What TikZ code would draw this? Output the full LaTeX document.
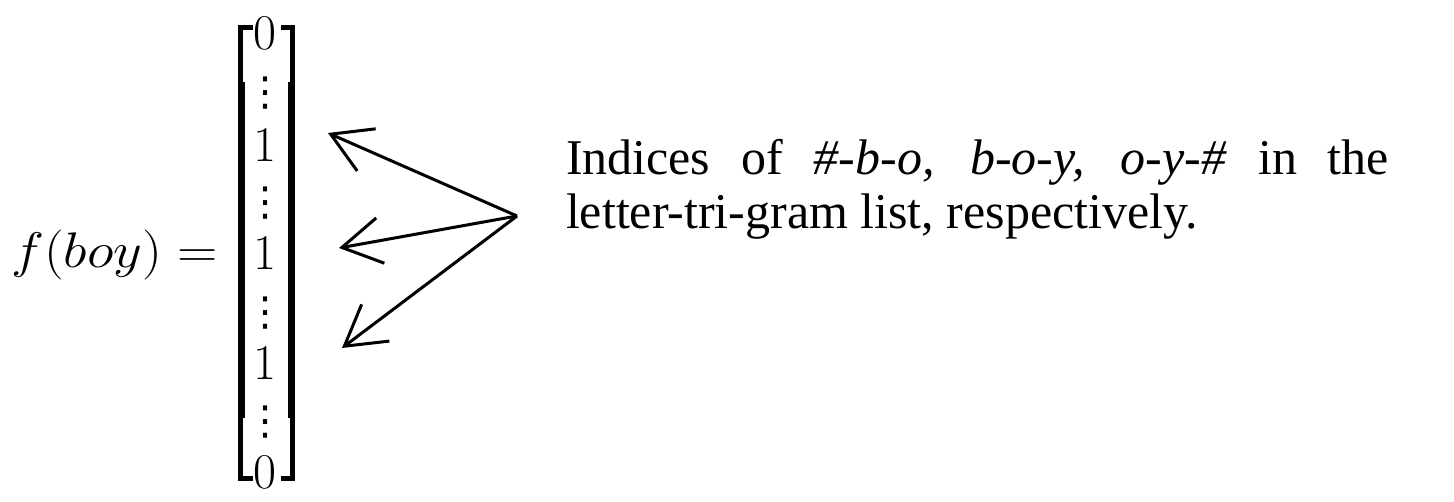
\documentclass[tikz,border=0pt]{standalone}
\usepackage{fix-cm}
\usepackage{fontspec}
\newfontfamily\notefont{Liberation Serif}
\newfontfamily\dotfont{DejaVu Sans}
\usetikzlibrary{arrows.meta}
\tikzstyle{every node}=[inner sep=0pt,outer sep=0pt]
\tikzstyle{entry}=[anchor=base,font=\fontsize{50}{60}\selectfont]
\tikzstyle{vdotcol}=[font=\dotfont\fontsize{40}{40}\selectfont]
\tikzstyle{bracket}=[line width=5pt,line cap=butt,line join=miter]
\tikzstyle{bracketmid}=[line width=7pt,line cap=butt]
\tikzstyle{pointer}=[line width=3pt,-{Straight Barb[length=39pt,width=46pt,line width=3pt]}]

\begin{document}
\begin{tikzpicture}[x=1pt,y=-1pt]
\useasboundingbox (0,0) rectangle (1454,502);
\node[font=\fontsize{50}{60}\selectfont,anchor=base east] (lhs) at (218,268) {\scalebox{1.12}[1]{$f(boy)=$}};
\node[entry] (zeroTop) at (265,50) {0};
\node[vdotcol] (dotsA) at (265,93) {⋮};
\node[entry] (oneA) at (265,162) {1};
\node[vdotcol] (dotsB) at (265,203) {⋮};
\node[entry] (oneB) at (265,270) {1};
\node[vdotcol] (dotsC) at (265,313) {⋮};
\node[entry] (oneC) at (265,380) {1};
\node[vdotcol] (dotsD) at (265,422) {⋮};
\node[entry] (zeroBot) at (265,488) {0};
\draw[bracket] (253,28) -| (240.5,478) -- (253,478);
\draw[bracket] (281,28) -| (292.5,478) -- (281,478);
\draw[bracketmid] (241.5,82) -- (241.5,418);
\draw[bracketmid] (291.5,82) -- (291.5,418);
\node[anchor=north west,text width=823pt,align=justify,
      font=\notefont\fontsize{50}{54}\selectfont] (note) at (566,139)
  {Indices of \textit{\#-b-o, b-o-y, o-y-\#} in the\linebreak letter-tri-gram list, respectively.};
\coordinate (hub) at (517,216);
\coordinate (tipA) at (328,133);
\coordinate (tipB) at (339,248);
\coordinate (tipC) at (342,348);
\draw[pointer] (hub) -- (tipA);
\draw[pointer] (hub) -- (tipB);
\draw[pointer] (hub) -- (tipC);
\end{tikzpicture}
\end{document}
